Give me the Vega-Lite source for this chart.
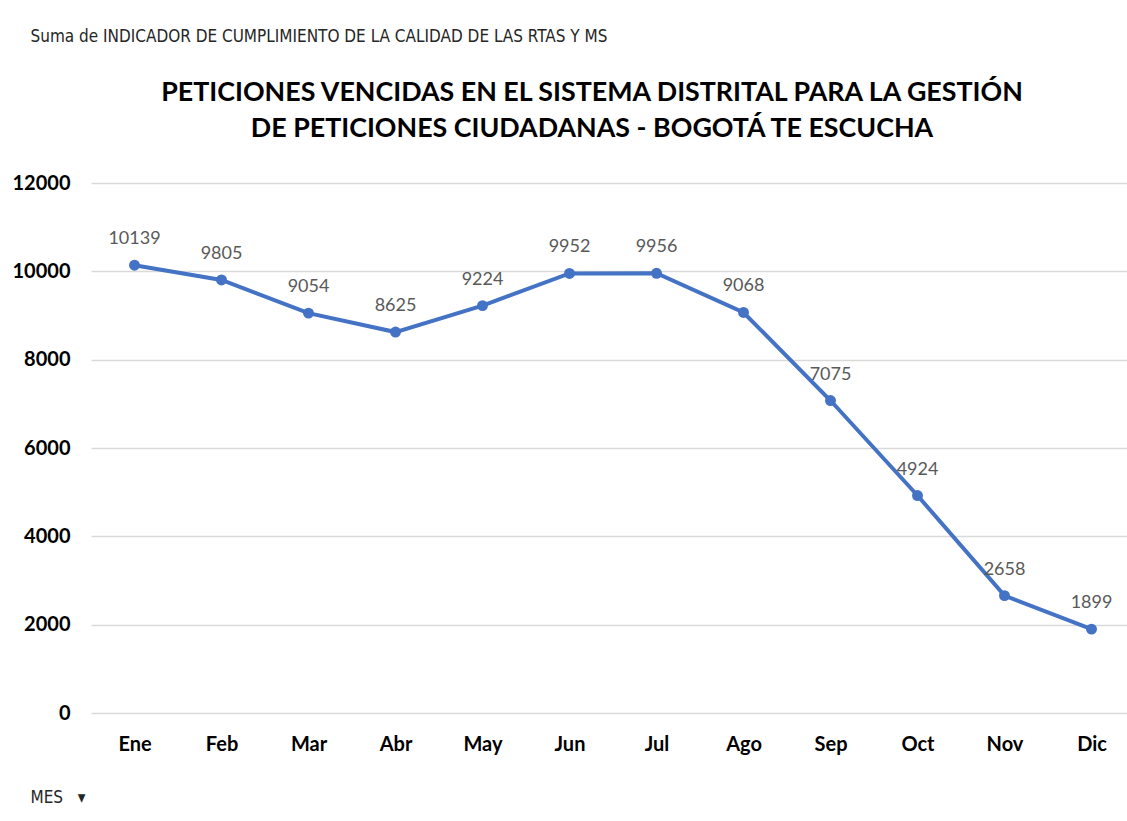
{
  "$schema": "https://vega.github.io/schema/vega-lite/v6.json",
  "autosize": "none",
  "width": 1044,
  "height": 530,
  "padding": {"left": 91, "top": 183, "right": 0, "bottom": 108},
  "background": "white",
  "config": {"view": {"stroke": null}},
  "title": {
    "text": ["PETICIONES VENCIDAS EN EL SISTEMA DISTRITAL PARA LA GESTIÓN", "DE PETICIONES CIUDADANAS - BOGOTÁ TE ESCUCHA"],
    "font": "Lato",
    "fontSize": 26.8,
    "fontWeight": "bold",
    "color": "#000000",
    "anchor": "middle",
    "dx": -21,
    "lineHeight": 36,
    "baseline": "bottom",
    "offset": -143
  },
  "data": {
    "values": [
      {"mes": "Ene", "valor": 10139},
      {"mes": "Feb", "valor": 9805},
      {"mes": "Mar", "valor": 9054},
      {"mes": "Abr", "valor": 8625},
      {"mes": "May", "valor": 9224},
      {"mes": "Jun", "valor": 9952},
      {"mes": "Jul", "valor": 9956},
      {"mes": "Ago", "valor": 9068},
      {"mes": "Sep", "valor": 7075},
      {"mes": "Oct", "valor": 4924},
      {"mes": "Nov", "valor": 2658},
      {"mes": "Dic", "valor": 1899}
    ]
  },
  "encoding": {
    "x": {
      "field": "mes",
      "type": "ordinal",
      "sort": null,
      "scale": {"type": "point", "padding": 0.5},
      "axis": {
        "title": "MES\u00a0\u00a0\u00a0▾",
        "titleFont": "DejaVu Sans Condensed, Open Sans",
        "titleFontSize": 17,
        "titleFontWeight": "normal",
        "titleColor": "#262626",
        "titleAlign": "left",
        "titleBaseline": "middle",
        "titleAnchor": null,
        "titleX": -61,
        "titleY": 84,
        "labelAngle": 0,
        "labelFont": "Lato",
        "labelFontSize": 20,
        "labelFontWeight": "bold",
        "labelColor": "#000000",
        "labelPadding": 21,
        "domain": false,
        "ticks": false,
        "grid": false
      }
    },
    "y": {
      "field": "valor",
      "type": "quantitative",
      "scale": {"domain": [0, 12000], "nice": false},
      "axis": {
        "values": [0, 2000, 4000, 6000, 8000, 10000, 12000],
        "format": "d",
        "title": "Suma de INDICADOR DE CUMPLIMIENTO DE LA CALIDAD DE LAS RTAS Y MS",
        "titleFont": "DejaVu Sans Condensed, Open Sans",
        "titleFontSize": 17,
        "titleFontWeight": "normal",
        "titleColor": "#262626",
        "titleAngle": 0,
        "titleAlign": "left",
        "titleBaseline": "middle",
        "titleAnchor": null,
        "titleX": -61,
        "titleY": -147,
        "labelFont": "Lato",
        "labelFontSize": 20,
        "labelFontWeight": "bold",
        "labelColor": "#000000",
        "labelPadding": 21,
        "domain": false,
        "ticks": false,
        "grid": true,
        "gridColor": "#d9d9d9",
        "gridWidth": 1.5
      }
    }
  },
  "layer": [
    {"mark": {"type": "line", "color": "#4472C4", "strokeWidth": 4}},
    {"mark": {"type": "point", "filled": true, "size": 120, "color": "#4472C4", "opacity": 1}},
    {
      "mark": {"type": "text", "dy": -26, "font": "Lato", "fontSize": 18, "color": "#595959", "baseline": "middle"},
      "encoding": {"text": {"field": "valor", "type": "quantitative", "format": "d"}}
    }
  ]
}
